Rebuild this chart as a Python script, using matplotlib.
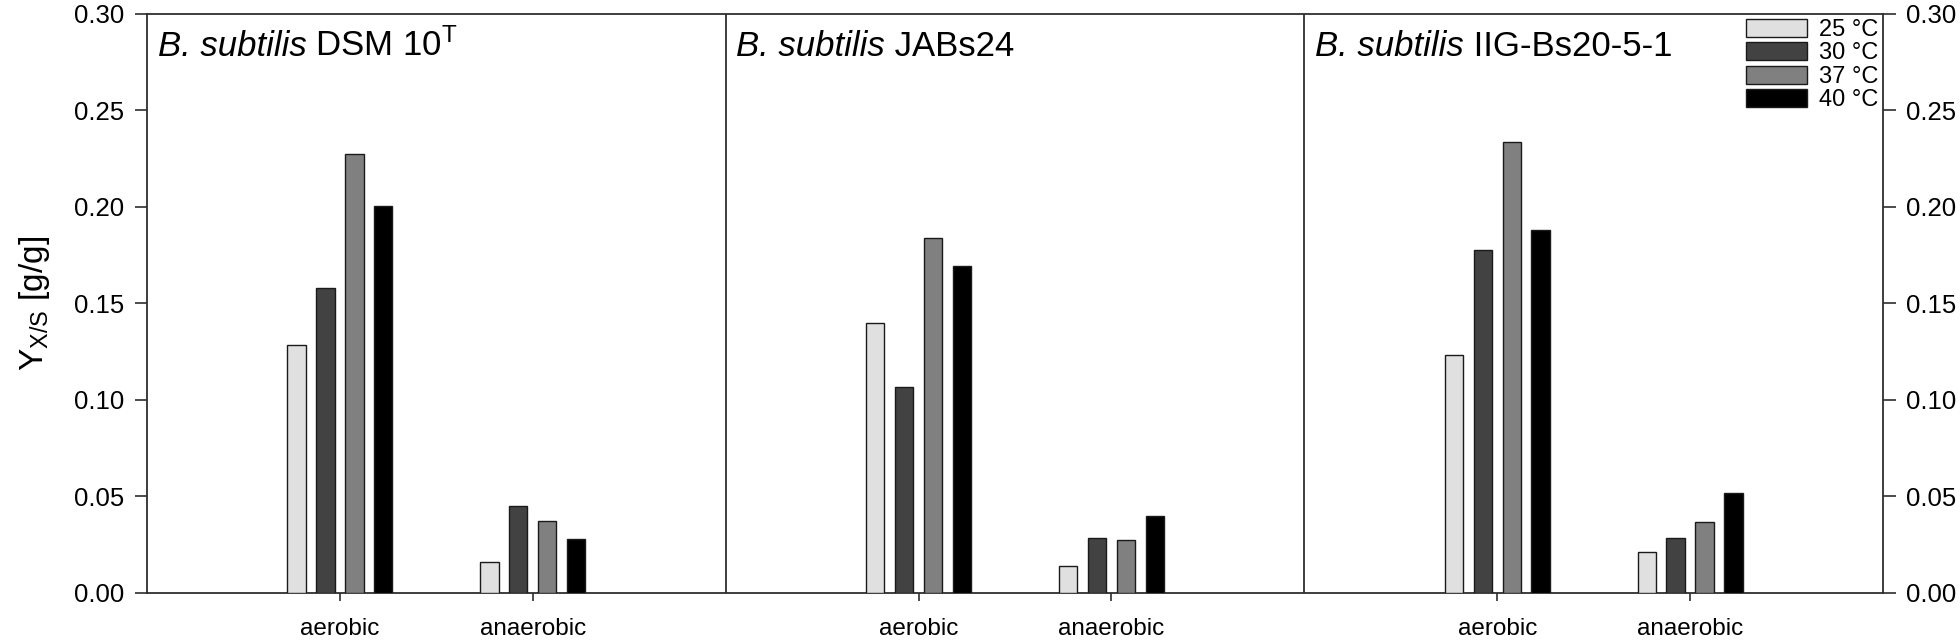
import numpy as np
import matplotlib
matplotlib.use("Agg")
import matplotlib.pyplot as plt
from matplotlib.patches import Patch

plt.rcParams['font.family'] = ['Liberation Sans', 'DejaVu Sans']
plt.rcParams['mathtext.fontset'] = 'custom'
plt.rcParams['mathtext.rm'] = 'Liberation Sans'
plt.rcParams['mathtext.it'] = 'Liberation Sans:italic'

# data (yield Y_X/S in g/g)
conditions = ['aerobic', 'anaerobic']
temperatures = ['25 °C', '30 °C', '37 °C', '40 °C']
species = 'B. subtilis'
strain_names = [' DSM 10$^{\\mathrm{T}}$', ' JABs24', ' IIG-Bs20-5-1']

dsm10_aerobic = [0.1285, 0.1582, 0.2273, 0.2005]
dsm10_anaerobic = [0.0162, 0.0449, 0.0373, 0.0280]
jabs24_aerobic = [0.1398, 0.1066, 0.1837, 0.1692]
jabs24_anaerobic = [0.0140, 0.0285, 0.0276, 0.0401]
iig_aerobic = [0.1232, 0.1777, 0.2339, 0.1882]
iig_anaerobic = [0.0211, 0.0285, 0.0366, 0.0518]

y_ticks = [0.00, 0.05, 0.10, 0.15, 0.20, 0.25, 0.30]

bar_colors = ['#e0e0e0', '#424242', '#808080', '#000000']
frame_color = '#2e2e2e'


def draw_panels(ax):
    '''
    one axes, three strain panels side by side (each 3 units wide)
    '''
    panels = [
        (dsm10_aerobic, dsm10_anaerobic),
        (jabs24_aerobic, jabs24_anaerobic),
        (iig_aerobic, iig_anaerobic),
    ]
    width = 0.095
    step = 0.15

    tick_pos = []
    tick_lab = []
    for p, (aer, anaer) in enumerate(panels):
        for c, vals in enumerate([aer, anaer]):
            centre = 3 * p + 1 + c
            tick_pos.append(centre)
            tick_lab.append(conditions[c])
            offsets = (np.arange(len(vals)) - 1.5) * step
            ax.bar(centre + offsets, vals, width=width, color=bar_colors,
                   edgecolor='#1a1a1a', linewidth=1.0, zorder=3)
        # italic species name, then the strain in upright text
        t = ax.text(3 * p + 0.055, 0.2745, species, fontsize=25,
                    style='italic', ha='left', va='bottom')
        ax.annotate(strain_names[p], xy=(1, 0), xycoords=t, fontsize=25,
                    ha='left', va='bottom')

    for xv in [3, 6]:
        ax.axvline(xv, color=frame_color, linewidth=1.3, zorder=4)

    ax.set_xlim(0, 9)
    ax.set_ylim(0, 0.30)
    ax.set_xticks(tick_pos)
    ax.set_xticklabels(tick_lab, fontsize=17.5)
    ax.set_yticks(y_ticks)
    ax.set_yticklabels([f'{v:.2f}' for v in y_ticks], fontsize=18.5)
    ax.tick_params(axis='y', direction='out', length=9, width=1.2,
                   color=frame_color, right=True, labelright=True, pad=7.5)
    ax.tick_params(axis='x', direction='out', length=6, width=1.2,
                   color=frame_color, pad=12)
    for s in ax.spines.values():
        s.set_color(frame_color)
        s.set_linewidth(1.3)

    ax.set_ylabel(r'Y$_{\mathrm{X/S}}$ [g/g]', fontsize=24, labelpad=16)

    handles = [Patch(facecolor=col, edgecolor='#1a1a1a', linewidth=1.0)
               for col in bar_colors]
    ax.legend(handles, temperatures, loc='upper right', frameon=False,
              fontsize=17, handlelength=2.6, handleheight=0.8,
              labelspacing=0.05, handletextpad=0.5, borderaxespad=0.1,
              borderpad=0.1)


def show_plots():
    fig = plt.figure(figsize=(19.6, 6.41), dpi=100)
    ax = fig.add_axes([0.075, 0.0749, 0.8857, 0.9033])
    draw_panels(ax)
    plt.savefig('out.png', dpi=100)


show_plots()
